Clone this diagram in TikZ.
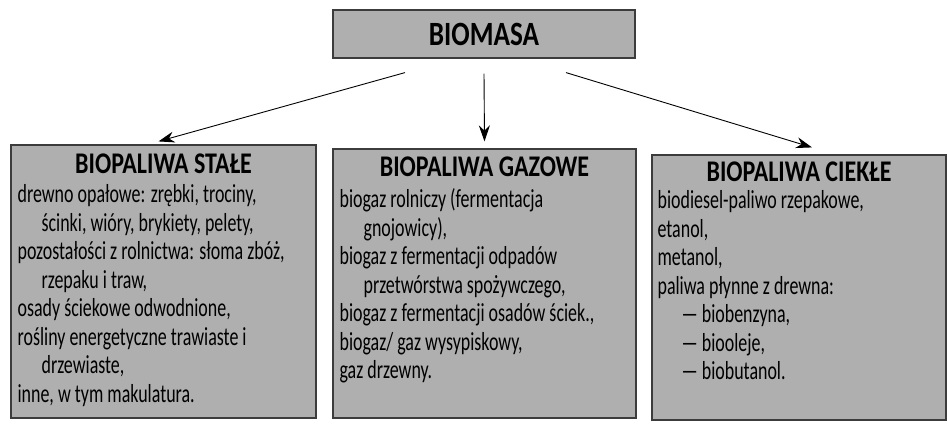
\documentclass[tikz,border=0pt]{standalone}
\usepackage{fontspec}
\setmainfont{Carlito}[FakeStretch=0.69]
\newfontfamily\headfont{Carlito}[FakeStretch=0.8]
\usepackage{tikz}
\usetikzlibrary{positioning,arrows.meta}
\definecolor{boxgray}{RGB}{175,175,175}
\definecolor{edgegray}{RGB}{60,60,60}
\newcommand{\wc}{\hspace*{24pt}}

\begin{document}
\begin{tikzpicture}[
    x=1pt, y=1pt,
    box/.style={
        draw=edgegray,
        line width=1.2pt,
        fill=boxgray,
        inner sep=0pt
    },
    head/.style={
        inner sep=0pt,
        anchor=north,
        font=\headfont\fontsize{30}{32}\selectfont\bfseries
    },
    body/.style={
        inner sep=0pt,
        anchor=north west,
        align=left,
        font=\fontsize{26}{28.5}\selectfont
    },
    arr/.style={
        -{Stealth[length=16pt,width=11pt]},
        line width=0.9pt
    }
]
\useasboundingbox (0,0) rectangle (947,-423);

\node[box, minimum width=302pt, minimum height=48pt,
      font=\headfont\fontsize{34}{36}\selectfont\bfseries] (biomasa) at (484,-34) {BIOMASA};

\node[box, minimum width=305pt, minimum height=273pt] (stale)  at (163.5,-281.5) {};
\node[box, minimum width=303pt, minimum height=269pt] (gazowe) at (484.5,-283.5) {};
\node[box, minimum width=294pt, minimum height=265pt] (ciekle) at (799,-287.5) {};

\node[head, below=9pt of stale.north] (staleHead) {BIOPALIWA STAŁE};
\node[head, below=8pt of gazowe.north] (gazoweHead) {BIOPALIWA GAZOWE};
\node[head, below=7pt of ciekle.north] (ciekleHead) {BIOPALIWA CIEKŁE};

\node[body, below right=40pt and 7pt of stale.north west] (staleText) {
    drewno opałowe: zrębki, trociny,\\
    \wc ścinki, wióry, brykiety, pelety,\\
    pozostałości z rolnictwa: słoma zbóż,\\
    \wc rzepaku i traw,\\
    osady ściekowe odwodnione,\\
    rośliny energetyczne trawiaste i\\
    \wc drzewiaste,\\
    inne, w tym makulatura.
};

\node[body, below right=40pt and 7pt of gazowe.north west] (gazoweText) {
    biogaz rolniczy (fermentacja\\
    \wc gnojowicy),\\
    biogaz z fermentacji odpadów\\
    \wc przetwórstwa spożywczego,\\
    biogaz z fermentacji osadów ściek.,\\
    biogaz/ gaz wysypiskowy,\\
    gaz drzewny.
};

\node[body, below right=36pt and 6pt of ciekle.north west] (ciekleText) {
    biodiesel-paliwo rzepakowe,\\
    etanol,\\
    metanol,\\
    paliwa płynne z drewna:\\
    \wc --- biobenzyna,\\
    \wc --- biooleje,\\
    \wc --- biobutanol.
};

\draw[arr] ([xshift=-79pt,yshift=-14pt]biomasa.south) -- ([xshift=-5pt,yshift=3pt]stale.north);
\draw[arr] ([yshift=-15pt]biomasa.south) -- ([yshift=7pt]gazowe.north);
\draw[arr] ([xshift=82pt,yshift=-14pt]biomasa.south) -- ([xshift=13pt,yshift=7pt]ciekle.north);

\end{tikzpicture}
\end{document}
